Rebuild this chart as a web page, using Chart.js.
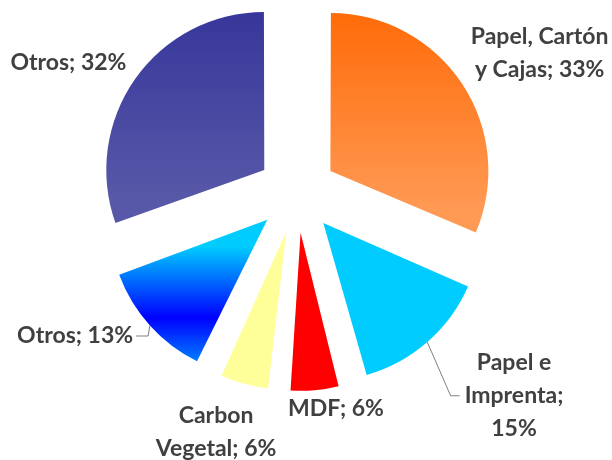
<!DOCTYPE html>
<html><head><meta charset="utf-8">
<script src="https://cdn.jsdelivr.net/npm/chart.js@4.4.0/dist/chart.umd.min.js"></script>
<style>html,body{margin:0;padding:0;background:#fff;overflow:hidden;} #wrap{width:612px;height:460px;position:relative;}</style>
</head><body><div id="wrap"><canvas id="c"></canvas></div>
<script>
// ---- data ----
const categories = ['Papel, Cartón y Cajas', 'Papel e Imprenta', 'MDF', 'Carbon Vegetal', 'Otros', 'Otros'];
const values = [33, 15, 6, 6, 13, 32];
const valueSuffix = '%';

// ---- styling ----
const EXPLODE = 40;       // px each slice is pulled out
const RADIUS = 158;
const fills = [
  [[0, '#FF6600'], [1, '#FF9A55']],
  '#00CCFF',
  '#FF0000',
  '#FFFF99',
  [[0, '#00CCFF'], [0.5, '#0000FF'], [1, '#00CCFF']],
  [[0, '#333399'], [1, '#5858A8']]
];
const solid = ['#FF7F2A', '#00CCFF', '#FF0000', '#FFFF99', '#0055FF', '#42429E'];
// label placement relative to the slice: angle shift (deg) from mid-angle, distance from centre, words per line
const labelLayout = [
  {dAng: 3.5,  dist: 280, lines: [2, 3]},
  {dAng: -5.8, dist: 297, lines: [2, 1, 1], leader: {side: 'left', line: 1}},
  {dAng: -5.1, dist: 219, lines: [2]},
  {dAng: 3.3,  dist: 252, lines: [1, 2]},
  {dAng: 9.2,  dist: 264, lines: [2], leader: {side: 'right', line: 0}},
  {dAng: -5.5, dist: 263, lines: [2]}
];
const FONT = 'bold 23px Lato';
const LINE_H = 33;
const TEXT_COLOR = '#404040';

const arcFix = {
  id: 'arcFix',
  afterDatasetsUpdate(chart) {
    const meta = chart.getDatasetMeta(0);
    const ctx = chart.ctx;
    meta.data.forEach((arc, i) => {
      const circ = arc.endAngle - arc.startAngle;
      const off = (arc.options.offset || 0) / 4;
      const fix = 1 - Math.sin(Math.min(Math.PI, circ));
      arc.outerRadius = RADIUS - off * fix;
      const f = fills[i];
      if (Array.isArray(f)) {
        const mid = (arc.startAngle + arc.endAngle) / 2;
        const cy = arc.y + Math.sin(mid) * EXPLODE;
        let minY = cy, maxY = cy;
        for (let k = 0; k <= 90; k++) {
          const a = arc.startAngle + circ * k / 90;
          const py = cy + Math.sin(a) * RADIUS;
          minY = Math.min(minY, py); maxY = Math.max(maxY, py);
        }
        const g = ctx.createLinearGradient(0, minY, 0, maxY);
        f.forEach(([p, c]) => g.addColorStop(p, c));
        arc.options = Object.assign({}, arc.options, {backgroundColor: g});
      }
    });
  }
};

const labelPlugin = {
  id: 'sliceLabels',
  afterDatasetsDraw(chart) {
    const meta = chart.getDatasetMeta(0);
    const ctx = chart.ctx;
    ctx.save();
    ctx.font = FONT;
    ctx.fillStyle = TEXT_COLOR;
    ctx.textAlign = 'center';
    ctx.textBaseline = 'middle';
    meta.data.forEach((arc, i) => {
      const lay = labelLayout[i];
      const words = (categories[i] + '; ' + values[i] + valueSuffix).split(' ');
      const lines = [];
      let w = 0;
      lay.lines.forEach(n => { lines.push(words.slice(w, w + n).join(' ')); w += n; });
      const mid = (arc.startAngle + arc.endAngle) / 2;
      const a = mid + lay.dAng * Math.PI / 180;
      const lx = arc.x + Math.cos(a) * lay.dist;
      const ly = arc.y + Math.sin(a) * lay.dist;
      lines.forEach((t, k) => {
        ctx.fillText(t, lx, ly + (k - (lines.length - 1) / 2) * LINE_H);
      });
      if (lay.leader) {
        const t = lines[lay.leader.line];
        const tw = ctx.measureText(t).width;
        const yy = ly + (lay.leader.line - (lines.length - 1) / 2) * LINE_H;
        const px = arc.x + Math.cos(mid) * (EXPLODE + RADIUS);
        const py = arc.y + Math.sin(mid) * (EXPLODE + RADIUS);
        const ex = lay.leader.side === 'left' ? lx - tw / 2 - 5 : lx + tw / 2 + 3;
        const bx = lay.leader.side === 'left' ? ex - 9 : ex + 12;
        ctx.save();
        ctx.strokeStyle = '#7F7F7F';
        ctx.lineWidth = 1;
        ctx.beginPath();
        ctx.moveTo(px, py); ctx.lineTo(bx, yy); ctx.lineTo(ex, yy);
        ctx.stroke();
        ctx.restore();
      }
    });
    ctx.restore();
  }
};

new Chart(document.getElementById('c'), {
  type: 'pie',
  data: {
    labels: categories,
    datasets: [{
      data: values,
      backgroundColor: solid,
      borderWidth: 0,
      offset: EXPLODE * 4,
      hoverOffset: EXPLODE * 4
    }]
  },
  options: {
    responsive: true,
    maintainAspectRatio: false,
    animation: false,
    radius: RADIUS,
    layout: {padding: {left: 0, right: 18, top: 0, bottom: 74}},
    plugins: {legend: {display: false}, tooltip: {enabled: false}},
    events: []
  },
  plugins: [arcFix, labelPlugin]
});
</script>
</body></html>
